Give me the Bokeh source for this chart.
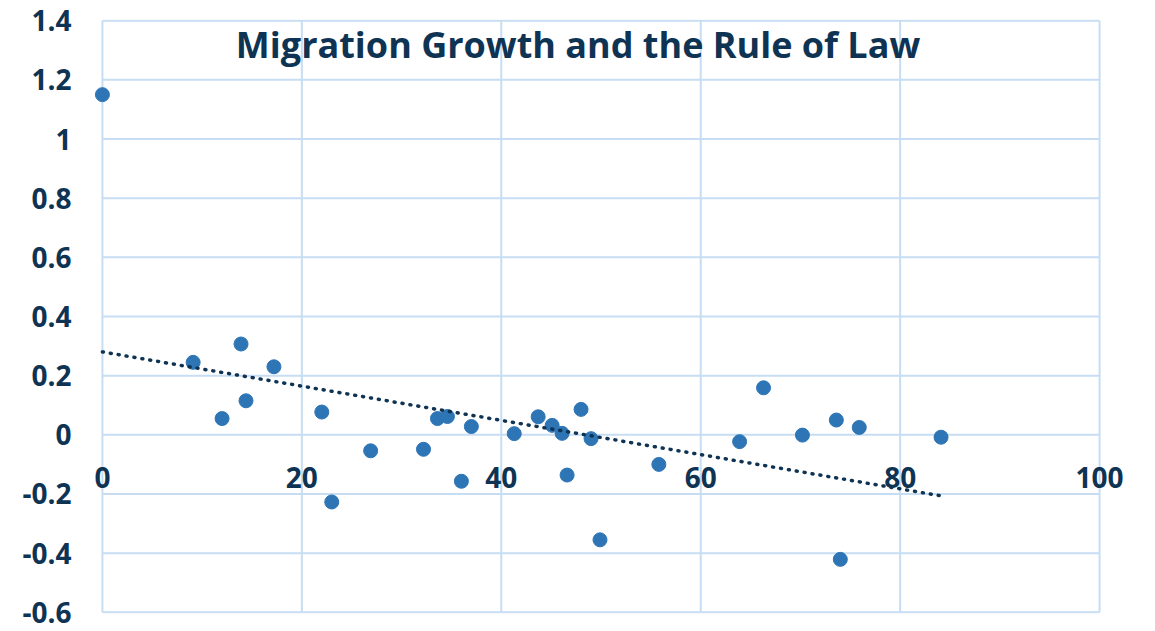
import numpy as np
from bokeh.plotting import figure
from bokeh.models import Range1d, FixedTicker, Label
from bokeh.embed import file_html
from bokeh.resources import INLINE

# Data
rule_of_law = [0.0, 9.1, 12.0, 13.9, 14.4, 17.2, 22.0, 23.0, 26.9, 32.2,
               33.6, 34.6, 36.0, 37.0, 41.3, 43.7, 45.1, 46.1, 46.6, 48.0,
               49.0, 49.9, 55.8, 63.9, 66.3, 70.2, 73.6, 74.0, 75.9, 84.1]
migration_growth = [1.15, 0.245, 0.055, 0.307, 0.115, 0.230, 0.077, -0.227, -0.054, -0.049,
                    0.055, 0.062, -0.157, 0.028, 0.004, 0.061, 0.032, 0.005, -0.136, 0.086,
                    -0.013, -0.355, -0.100, -0.023, 0.159, -0.001, 0.050, -0.421, 0.025, -0.008]

x_ticks = [0, 20, 40, 60, 80, 100]
x_tick_labels = ["0", "20", "40", "60", "80", "100"]
y_ticks = [-0.6, -0.4, -0.2, 0, 0.2, 0.4, 0.6, 0.8, 1.0, 1.2, 1.4]
y_tick_labels = ["-0.6", "-0.4", "-0.2", "0", "0.2", "0.4", "0.6", "0.8", "1", "1.2", "1.4"]
title_text = "Migration Growth and the Rule of Law"

NAVY = "#0f3353"
BLUE = "#2e75b6"
GRID = "#c6ddf3"
FONT = "Open Sans"

x_lo, x_hi = min(x_ticks), max(x_ticks)
y_lo, y_hi = min(y_ticks), max(y_ticks)
xpad = 3
ypad = 0.004

p = figure(width=1150, height=630, output_backend="svg", toolbar_location=None,
           x_range=Range1d(x_lo - xpad, x_hi + xpad), y_range=Range1d(y_lo - ypad, y_hi + ypad),
           min_border_left=72, min_border_right=21, min_border_top=19, min_border_bottom=17)
p.outline_line_color = None
p.background_fill_color = "white"
p.border_fill_color = "white"
p.xgrid.visible = False
p.ygrid.visible = False

# plot-area grid (spanning only the 0..100 x -0.6..1.4 area)
p.segment(x0=[x_lo] * len(y_ticks), y0=y_ticks, x1=[x_hi] * len(y_ticks), y1=y_ticks,
          line_color=GRID, line_width=2)
p.segment(x0=x_ticks, y0=[y_lo] * len(x_ticks), x1=x_ticks, y1=[y_hi] * len(x_ticks),
          line_color=GRID, line_width=2)

xax = p.xaxis[0]
xax.fixed_location = 0
xax.ticker = FixedTicker(ticks=x_ticks)
xax.major_label_overrides = {t: l for t, l in zip(x_ticks, x_tick_labels)}
xax.axis_line_color = None
xax.major_tick_line_color = None
xax.minor_tick_line_color = None
xax.major_tick_in = 0
xax.major_tick_out = 0
xax.major_label_standoff = 32
xax.major_label_text_font = FONT
xax.major_label_text_font_style = "bold"
xax.major_label_text_font_size = "28px"
xax.major_label_text_color = NAVY

yax = p.yaxis[0]
yax.ticker = FixedTicker(ticks=y_ticks)
yax.major_label_overrides = {t: l for t, l in zip(y_ticks, y_tick_labels)}
yax.axis_line_color = None
yax.major_tick_line_color = None
yax.minor_tick_line_color = None
yax.major_tick_in = 0
yax.major_tick_out = 0
yax.major_label_standoff = 1
yax.major_label_text_font = FONT
yax.major_label_text_font_style = "bold"
yax.major_label_text_font_size = "28px"
yax.major_label_text_color = NAVY

# points
p.scatter(rule_of_law, migration_growth, size=14, fill_color=BLUE, line_color=BLUE)

# linear trendline
slope, intercept = np.polyfit(rule_of_law, migration_growth, 1)
tx = [min(rule_of_law), max(rule_of_law)]
ty = [intercept + slope * v for v in tx]
p.line(tx, ty, line_color=NAVY, line_width=3.5, line_dash="1 7", line_cap="round")

p.add_layout(Label(x=47.7, y=1.318, text=title_text, text_align="center",
                   text_baseline="alphabetic", text_font=FONT, text_font_style="bold",
                   text_font_size="36px", text_color=NAVY))

open("out.html", "w").write(file_html(p, INLINE))
